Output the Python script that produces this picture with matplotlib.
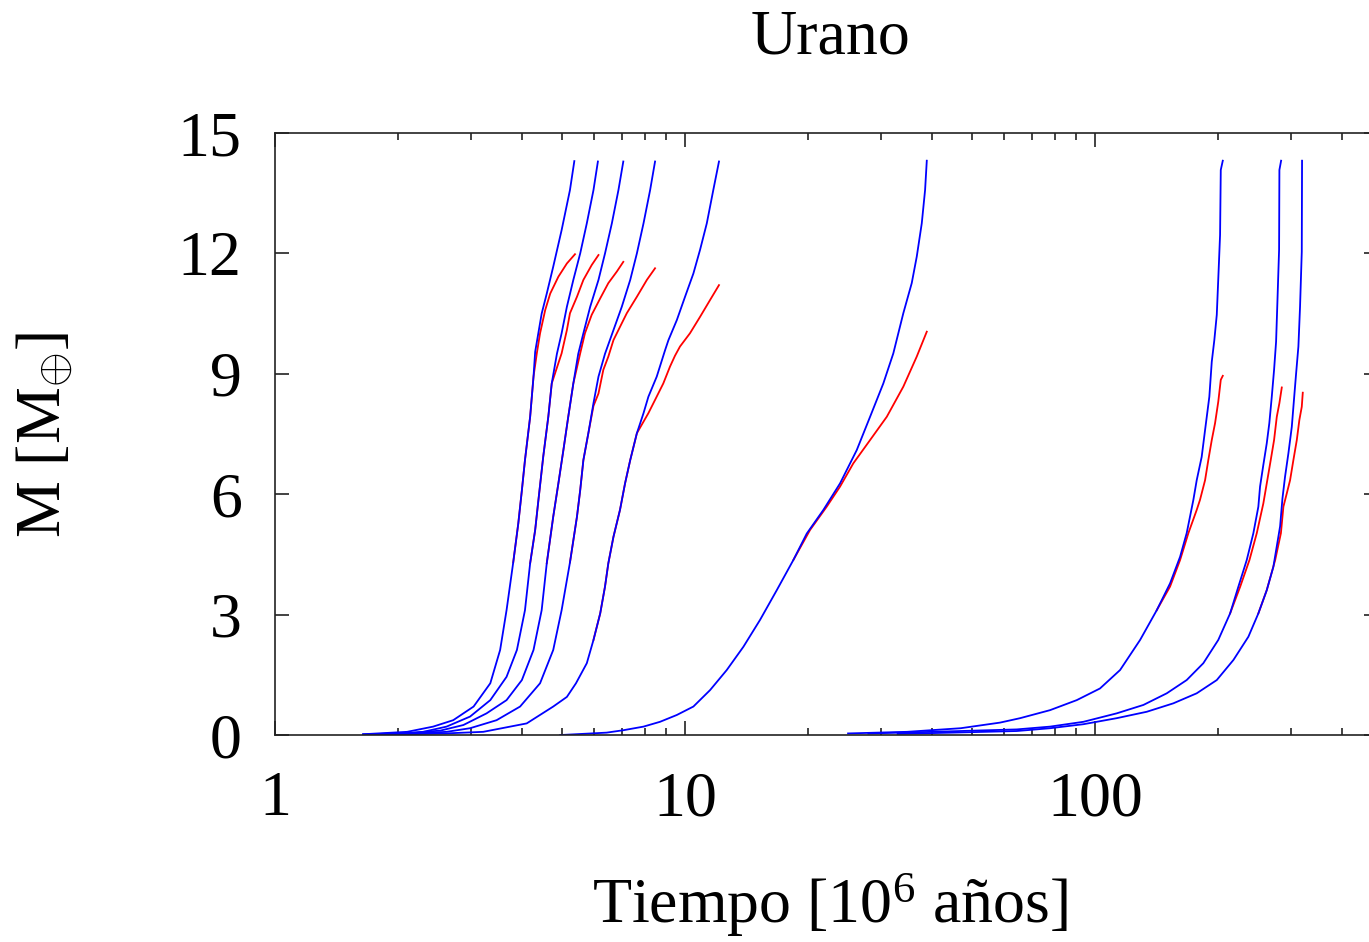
import matplotlib.pyplot as plt
from matplotlib.ticker import LogLocator, NullFormatter

plt.rcParams['font.family'] = ['Liberation Serif', 'DejaVu Serif']
plt.rcParams['mathtext.fontset'] = 'custom'
plt.rcParams['mathtext.rm'] = 'Liberation Serif'
plt.rcParams['mathtext.it'] = 'Liberation Serif:italic'
plt.rcParams['mathtext.bf'] = 'Liberation Serif:bold'

# tiempo [10^6 anos] y masa [M_tierra]
t1_blue = [1.64, 2.10, 2.43, 2.72, 3.05, 3.35, 3.54, 3.67, 3.81, 3.92, 4.00, 4.07, 4.19, 4.27, 4.31, 4.47, 4.60, 4.77, 5.00, 5.24, 5.37]
m1_blue = [0.02, 0.08, 0.21, 0.37, 0.71, 1.29, 2.12, 3.11, 4.30, 5.27, 6.10, 6.85, 7.93, 8.93, 9.55, 10.5, 11.0, 11.67, 12.58, 13.58, 14.3]
t1_red = [3.81, 3.92, 4.00, 4.07, 4.19, 4.27, 4.35, 4.43, 4.56, 4.69, 4.91, 5.15, 5.39]
m1_red = [4.30, 5.27, 6.10, 6.85, 7.93, 8.93, 9.51, 10.01, 10.59, 11.0, 11.42, 11.75, 11.98]

t2_blue = [1.64, 2.10, 2.30, 2.62, 2.99, 3.35, 3.67, 3.89, 4.07, 4.19, 4.31, 4.39, 4.51, 4.64, 4.73, 4.87, 5.00, 5.15, 5.34, 5.55, 5.76, 5.98, 6.13]
m2_blue = [0.02, 0.04, 0.08, 0.21, 0.46, 0.87, 1.45, 2.12, 3.11, 4.28, 5.11, 5.86, 6.94, 7.93, 8.76, 9.5, 10.01, 10.67, 11.34, 12.0, 12.75, 13.58, 14.29]
t2_red = [4.19, 4.31, 4.39, 4.51, 4.64, 4.73, 5.00, 5.15, 5.24, 5.45, 5.65, 5.92, 6.15]
m2_red = [4.28, 5.11, 5.86, 6.94, 7.93, 8.76, 9.51, 10.09, 10.51, 10.92, 11.34, 11.71, 11.96]

t3_blue = [1.70, 2.10, 2.53, 2.88, 3.28, 3.67, 4.00, 4.27, 4.47, 4.60, 4.77, 4.91, 5.05, 5.19, 5.34, 5.49, 5.65, 5.87, 6.15, 6.38, 6.63, 6.88, 7.07]
m3_blue = [0.02, 0.05, 0.11, 0.25, 0.54, 0.87, 1.37, 2.12, 3.11, 4.28, 5.44, 6.27, 7.10, 7.93, 8.76, 9.5, 10.01, 10.67, 11.34, 12.0, 12.75, 13.58, 14.29]
t3_red = [4.60, 4.77, 4.91, 5.05, 5.19, 5.34, 5.55, 5.70, 5.92, 6.21, 6.50, 6.82, 7.07]
m3_red = [4.28, 5.44, 6.27, 7.10, 7.93, 8.76, 9.51, 10.01, 10.47, 10.88, 11.26, 11.55, 11.79]

t4_blue = [1.75, 2.20, 2.62, 2.99, 3.47, 3.96, 4.43, 4.77, 5.00, 5.24, 5.45, 5.55, 5.65, 5.81, 5.98, 6.15, 6.38, 6.69, 7.01, 7.35, 7.63, 7.92, 8.22, 8.45]
m4_blue = [0.02, 0.04, 0.08, 0.17, 0.37, 0.71, 1.29, 2.12, 3.11, 4.30, 5.44, 6.10, 6.85, 7.52, 8.27, 8.93, 9.5, 10.09, 10.67, 11.34, 12.0, 12.75, 13.58, 14.29]
t4_red = [5.24, 5.45, 5.55, 5.65, 5.81, 5.98, 6.15, 6.32, 6.50, 6.69, 6.94, 7.21, 7.63, 8.07, 8.45]
m4_red = [4.30, 5.44, 6.10, 6.85, 7.52, 8.20, 8.51, 9.10, 9.43, 9.84, 10.17, 10.51, 10.92, 11.34, 11.63]

t5_blue = [1.9, 2.6, 3.22, 4.11, 4.77, 5.15, 5.42, 5.76, 5.98, 6.21, 6.38, 6.50, 6.69, 6.94, 7.14, 7.35, 7.63, 7.92, 8.14, 8.53, 8.94, 9.11, 9.55, 10.0, 10.48, 10.88, 11.30, 11.72, 12.10]
m5_blue = [0.01, 0.04, 0.08, 0.29, 0.71, 0.95, 1.29, 1.79, 2.37, 3.03, 3.70, 4.28, 4.94, 5.61, 6.27, 6.85, 7.52, 8.02, 8.43, 8.93, 9.59, 9.84, 10.34, 10.92, 11.5, 12.09, 12.75, 13.58, 14.29]
t5_red = [5.98, 6.21, 6.38, 6.50, 6.69, 6.94, 7.14, 7.35, 7.63, 8.14, 8.45, 8.85, 9.19, 9.45, 9.72, 10.28, 10.88, 11.51, 12.10]
m5_red = [2.37, 3.03, 3.70, 4.28, 4.94, 5.61, 6.27, 6.85, 7.52, 8.02, 8.35, 8.76, 9.18, 9.45, 9.68, 10.01, 10.42, 10.84, 11.21]

t6_blue = [4.96, 6.44, 7.07, 7.92, 8.69, 9.55, 10.48, 11.51, 12.64, 13.88, 15.24, 16.74, 18.37, 19.81, 21.75, 23.88, 26.23, 28.27, 30.45, 32.21, 34.07, 35.72, 36.74, 37.79, 38.50, 38.87]
m6_blue = [0.0, 0.06, 0.12, 0.21, 0.33, 0.50, 0.71, 1.12, 1.62, 2.20, 2.87, 3.61, 4.36, 5.02, 5.61, 6.27, 7.10, 7.93, 8.76, 9.51, 10.51, 11.26, 11.92, 12.75, 13.58, 14.31]
t6_red = [18.37, 20.18, 22.16, 23.88, 25.73, 28.27, 31.05, 34.07, 36.74, 38.87]
m6_red = [4.36, 5.11, 5.69, 6.19, 6.77, 7.35, 7.93, 8.68, 9.43, 10.05]

t7_blue = [24.98, 34.79, 47.03, 58.66, 65.63, 77.66, 90.24, 102.8, 115.1, 128.8, 141.4, 152.4, 161.2, 167.3, 173.7, 177.0, 182.0, 185.5, 190.0, 192.6, 195.4, 198.1, 199.8, 201.8, 202.6, 204.9]
m7_blue = [0.04, 0.08, 0.17, 0.31, 0.42, 0.62, 0.87, 1.16, 1.62, 2.37, 3.11, 3.78, 4.44, 5.03, 5.86, 6.35, 6.93, 7.60, 8.43, 9.30, 9.84, 10.47, 11.38, 12.46, 14.08, 14.31]
t7_red = [141.4, 152.4, 161.2, 168.9, 177.0, 180.3, 185.5, 188.9, 192.6, 196.2, 199.8, 202.6, 204.9]
m7_red = [3.11, 3.70, 4.36, 5.03, 5.61, 5.86, 6.35, 6.85, 7.35, 7.77, 8.31, 8.85, 8.95]

t8_blue = [28.0, 40.0, 64.4, 77.7, 93.7, 112.9, 131.2, 149.6, 167.3, 183.7, 199.8, 213.5, 223.7, 234.4, 243.3, 250.2, 252.6, 257.3, 262.3, 266.1, 269.8, 273.3, 276.4, 278.4, 281.1, 281.6, 284.3]
m8_blue = [0.04, 0.08, 0.14, 0.21, 0.33, 0.54, 0.75, 1.04, 1.37, 1.79, 2.37, 3.03, 3.70, 4.36, 5.03, 5.69, 6.19, 6.73, 7.27, 7.77, 8.43, 9.10, 9.80, 10.76, 12.09, 14.08, 14.31]
t8_red = [213.5, 226.0, 238.0, 248.0, 257.3, 262.3, 268.2, 273.3, 277.5, 281.6, 285.4]
m8_red = [3.03, 3.70, 4.36, 5.03, 5.77, 6.27, 6.85, 7.35, 7.93, 8.27, 8.66]

t9_blue = [33.0, 45.0, 64.4, 77.7, 93.7, 112.9, 133.7, 155.2, 177.0, 198.1, 217.5, 236.6, 250.2, 262.3, 272.2, 282.7, 286.5, 290.7, 296.2, 301.9, 305.8, 309.3, 313.3, 316.2, 319.3, 319.8]
m9_blue = [0.03, 0.06, 0.10, 0.17, 0.27, 0.42, 0.58, 0.79, 1.04, 1.37, 1.87, 2.45, 3.03, 3.61, 4.19, 5.2, 5.9, 6.44, 7.02, 7.68, 8.39, 9.01, 9.68, 10.67, 12.04, 14.31]
t9_red = [250.2, 262.3, 275.0, 284.0, 288.0, 293.5, 299.0, 304.6, 310.5, 315.0, 319.3, 321.1]
m9_red = [3.03, 3.61, 4.36, 5.03, 5.69, 6.02, 6.35, 6.85, 7.35, 7.85, 8.18, 8.53]

blue_curves = [(t1_blue, m1_blue), (t2_blue, m2_blue), (t3_blue, m3_blue),
               (t4_blue, m4_blue), (t5_blue, m5_blue), (t6_blue, m6_blue),
               (t7_blue, m7_blue), (t8_blue, m8_blue), (t9_blue, m9_blue)]
red_curves = [(t1_red, m1_red), (t2_red, m2_red), (t3_red, m3_red),
              (t4_red, m4_red), (t5_red, m5_red), (t6_red, m6_red),
              (t7_red, m7_red), (t8_red, m8_red), (t9_red, m9_red)]

fig = plt.figure(figsize=(13.69, 9.42), dpi=100)
ax = fig.add_axes([0.2009, 0.2197, 0.8057, 0.6391])

for t, m in red_curves:
    ax.plot(t, m, color='#ff0000', lw=1.3)
for t, m in blue_curves:
    ax.plot(t, m, color='#0000ff', lw=1.3)

ax.set_xscale('log')
ax.set_xlim(1, 490)
ax.set_ylim(0, 15)
ax.set_yticks([0, 3, 6, 9, 12, 15])
ax.set_xticks([1, 10, 100])
ax.set_xticklabels(['1', '10', '100'])
ax.xaxis.set_minor_locator(LogLocator(base=10, subs=range(2, 10)))
ax.xaxis.set_minor_formatter(NullFormatter())

ax.tick_params(which='both', direction='in', top=True, right=True, labelsize=46, color='#222222')
ax.tick_params(which='major', length=10, width=1.2)
ax.tick_params(which='minor', length=5, width=1.2)
ax.tick_params(axis='x', pad=26)
ax.tick_params(axis='y', pad=24)
for s in ax.spines.values():
    s.set_linewidth(1.2)
    s.set_color('#222222')

fig.text(830 / 1369, 1 - 38 / 942, 'Urano', ha='center', va='center', fontsize=46)
fig.text(830 / 1369, 1 - 905 / 942, 'Tiempo [10$^{6}$ años]', ha='center', va='center', fontsize=46)
fig.text(45 / 1369, 1 - 435 / 942, r'M [M$_{\oplus}$]', ha='center', va='center',
         rotation=90, fontsize=46)

fig.savefig('out.png', dpi=100)
